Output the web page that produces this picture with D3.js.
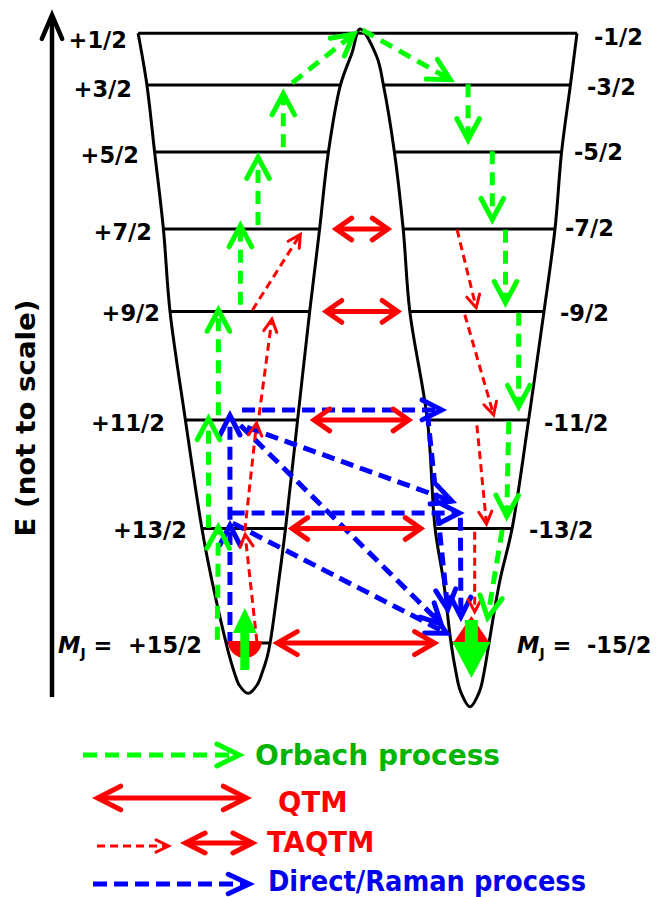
<!DOCTYPE html>
<html>
<head>
<meta charset="utf-8">
<script src="https://cdn.jsdelivr.net/npm/d3@7"></script>
<style>
  html, body { margin: 0; padding: 0; background: #fff; }
  svg { display: block; }
  text { font-family: "DejaVu Sans", Verdana, sans-serif; font-weight: bold; }
</style>
</head>
<body>
<svg id="chart" width="657" height="897"></svg>
<script>
// ---- Kramers doublets M_J = ±1/2 ... ±15/2 (energy axis not to scale) ----
const leftLabels  = ["+1/2", "+3/2", "+5/2", "+7/2", "+9/2", "+11/2", "+13/2", "+15/2"];
const rightLabels = ["-1/2", "-3/2", "-5/2", "-7/2", "-9/2", "-11/2", "-13/2", "-15/2"];
const levelEnergy = [99.5, 91.8, 81.8, 70.3, 58.0, 41.8, 25.6, 8.5];

// Double-well walls: coordinate q where each level meets the four branches
const wallLeftOuter  = [-1.99, -1.91, -1.84, -1.76, -1.70, -1.56, -1.41, -1.19];
const wallLeftInner  = [null, -0.15, -0.26, -0.34, -0.43, -0.54, -0.65, -0.79];
const wallRightInner = [null, 0.24, 0.34, 0.42, 0.48, 0.64, 0.71, 0.855];
const wallRightOuter = [2.00, 1.94, 1.86, 1.80, 1.70, 1.56, 1.41, 1.20];
// wall positions between the two lowest levels (outer-left, inner-left, inner-right, outer-right)
const lowerEnergy = 17.9;
const lowerWall = [-1.32, -0.71, 0.785, 1.30];
// well bottoms and barrier top  [q, E]
const leftBottom  = [[-1.157, 6.4], [-1.113, 4.0], [-1.07, 2.2], [-0.99, 1.0], [-0.91, 2.2], [-0.864, 4.0], [-0.817, 6.4]];
const barrierTop  = [[-0.045, 96.6], [0.027, 100.15], [0.18, 96.0]];
const rightBottom = [[0.898, 4.3], [0.941, 1.3], [1.027, -1.0], [1.114, 1.3], [1.157, 4.3]];

// Relaxation pathways  [q1, E1, q2, E2]
const orbach = [
  [-1.27,  9.0, -1.26, 26.6],
  [-1.35, 25.7, -1.35, 42.8],
  [-1.26, 42.5, -1.26, 59.0],
  [-1.06, 59.0, -1.06, 71.6],
  [-0.90, 70.9, -0.90, 81.8],
  [-0.67, 82.5, -0.67, 91.3],
  [-0.59, 92.1,  0.01, 99.9],
  [ 0.05, 100.0, 0.89, 92.2],
  [ 1.01, 91.9,  1.01, 82.8],
  [ 1.23, 81.9,  1.23, 70.9],
  [ 1.35, 70.2,  1.35, 58.5],
  [ 1.47, 57.8,  1.47, 43.0],
  [ 1.38, 41.6,  1.36, 26.6],
  [ 1.32, 25.4,  1.18, 11.5]
];
const taqtm = [
  [-0.91,  8.7, -1.02, 25.2],
  [-1.02, 25.2, -0.91, 41.8],
  [-0.89, 42.5, -0.77, 57.3],
  [-0.95, 58.2, -0.50, 69.9],
  [ 0.91, 70.2,  1.09, 58.1],
  [ 0.98, 57.5,  1.25, 42.1],
  [ 1.09, 41.0,  1.18, 25.8],
  [ 1.07, 25.1,  1.07, 12.7]
];
// tunnelling between the two wells: level index, left q, right q
const qtmLevel = [3, 4, 5, 6, 7];
const qtmLeft  = [-0.23, -0.32, -0.43, -0.63, -0.77];
const qtmRight = [0.32, 0.41, 0.51, 0.62, 0.75];
const direct = [
  [-1.155,  8.2, -1.155, 26.9],
  [-1.155, 26.9, -1.155, 43.3],
  [-1.045, 43.3,  0.82,  43.3],
  [-1.14,  27.9,  0.98,  27.9],
  [-1.00,  40.7,  0.91,  29.4],
  [-1.06,  41.0,  0.80,  10.8],
  [-1.13,  26.4,  0.86,   9.6],
  [ 0.64,  42.8,  0.83,  12.7],
  [ 0.94,  27.2,  0.945, 11.6]
];
// ground-state populations (well position q)
const groundLeftQ = -1.02;
const groundRightQ = 1.04;

const legendLabels = ["Orbach process", "QTM", "TAQTM", "Direct/Raman process"];

// ---- scales ----
const x = d3.scaleLinear().domain([-1, 1]).range([247, 467]);
const y = d3.scaleLinear().domain([0, 100]).range([700, 30]);

const svg = d3.select("#chart");

// ---- arrow helpers ----
const GREEN = "#00ff00", RED = "#ff0000", BLUE = "#0000ff";
const st = {
  orbach: { color: GREEN, w: 5, dash: "13,8", L: 24, th: 28 },
  direct: { color: BLUE, w: 5, dash: "13,7", L: 22, th: 27 },
  taqtm:  { color: RED, w: 3, dash: "8,5", L: 14, th: 28 },
  qtm:    { color: RED, w: 5, dash: null, L: 19, th: 35 }
};

function chevron(vx, vy, ang, L, th) {
  const a1 = ang + Math.PI - th, a2 = ang + Math.PI + th;
  return `M${vx + L * Math.cos(a1)},${vy + L * Math.sin(a1)}L${vx},${vy}L${vx + L * Math.cos(a2)},${vy + L * Math.sin(a2)}`;
}

function drawArrow(g, x1, y1, x2, y2, s, double) {
  const ang = Math.atan2(y2 - y1, x2 - x1);
  const th = s.th * Math.PI / 180;
  const back = (s.w / 2) / Math.sin(th);
  const ex = x2 - back * Math.cos(ang), ey = y2 - back * Math.sin(ang);
  let sx = x1, sy = y1;
  if (double) { sx = x1 + back * Math.cos(ang); sy = y1 + back * Math.sin(ang); }
  g.append("line")
    .attr("x1", sx).attr("y1", sy).attr("x2", ex).attr("y2", ey)
    .attr("stroke", s.color).attr("stroke-width", s.w)
    .attr("stroke-dasharray", s.dash);
  const heads = [[ex, ey, ang]];
  if (double) heads.push([sx, sy, ang + Math.PI]);
  heads.forEach(([hx, hy, a]) => {
    g.append("path").attr("d", chevron(hx, hy, a, s.L, th))
      .attr("fill", "none").attr("stroke", s.color).attr("stroke-width", s.w)
      .attr("stroke-linejoin", "miter").attr("stroke-linecap", "round");
  });
}

// ---- energy axis ----
const axisX = 52;
svg.append("line").attr("x1", axisX).attr("x2", axisX)
  .attr("y1", y(0) - 3).attr("y2", 17)
  .attr("stroke", "#000").attr("stroke-width", 4.5);
svg.append("path").attr("d", chevron(axisX, 15, -Math.PI / 2, 26, 23 * Math.PI / 180))
  .attr("fill", "none").attr("stroke", "#000").attr("stroke-width", 4.5)
  .attr("stroke-linecap", "round").attr("stroke-linejoin", "miter");
svg.append("text")
  .attr("transform", `translate(35,418) rotate(-90)`)
  .attr("text-anchor", "middle")
  .attr("font-size", 26)
  .attr("textLength", 237).attr("lengthAdjust", "spacingAndGlyphs")
  .attr("fill", "#000")
  .text("E (not to scale)");

// ---- double-well potential ----
const last = levelEnergy.length - 1;
const profile = [];
for (let i = 0; i < last; i++) profile.push([wallLeftOuter[i], levelEnergy[i]]);
profile.push([lowerWall[0], lowerEnergy]);
profile.push([wallLeftOuter[last], levelEnergy[last]]);
leftBottom.forEach(p => profile.push(p));
profile.push([wallLeftInner[last], levelEnergy[last]]);
profile.push([lowerWall[1], lowerEnergy]);
for (let i = last - 1; i >= 1; i--) profile.push([wallLeftInner[i], levelEnergy[i]]);
barrierTop.forEach(p => profile.push(p));
for (let i = 1; i < last; i++) profile.push([wallRightInner[i], levelEnergy[i]]);
profile.push([lowerWall[2], lowerEnergy]);
profile.push([wallRightInner[last], levelEnergy[last]]);
rightBottom.forEach(p => profile.push(p));
profile.push([wallRightOuter[last], levelEnergy[last]]);
profile.push([lowerWall[3], lowerEnergy]);
for (let i = last - 1; i >= 0; i--) profile.push([wallRightOuter[i], levelEnergy[i]]);

const wellLine = d3.line()
  .x(d => x(d[0])).y(d => y(d[1]))
  .curve(d3.curveCatmullRom.alpha(0.5));

const gWell = svg.append("g");
gWell.append("path").attr("d", wellLine(profile))
  .attr("fill", "none").attr("stroke", "#000").attr("stroke-width", 3);

// levels
levelEnergy.forEach((E, i) => {
  const segs = i === 0
    ? [[wallLeftOuter[0], wallRightOuter[0]]]
    : [[wallLeftOuter[i], wallLeftInner[i]], [wallRightInner[i], wallRightOuter[i]]];
  segs.forEach(([a, b]) => {
    gWell.append("line")
      .attr("x1", x(a)).attr("x2", x(b))
      .attr("y1", y(E)).attr("y2", y(E))
      .attr("stroke", "#000").attr("stroke-width", 3);
  });
});

// ---- level labels ----
const labelSize = 22.5;
const leftLabelEnd = [127, 132, 139, 152, 160, 165, 187, 202];
const rightLabelStart = [594, 587, 574, 565, 560, 544, 529, 517];
const leftDy = [7, 4, 3, 3, 2, 3, 2, 2];
const rightDy = [4, 2, 0, -1, 2, 3, 2, 2];

function addLabel(txt, xPos, yc, anchor, ground) {
  const t = svg.append("text")
    .attr("x", xPos).attr("y", yc + 8)
    .attr("text-anchor", anchor)
    .attr("font-size", labelSize).attr("fill", "#000");
  if (ground) {
    t.append("tspan").attr("font-style", "italic").text("M");
    t.append("tspan").attr("font-size", 14).attr("dy", 5).text("J");
    t.append("tspan").attr("dy", -5).text("\u00a0=\u00a0\u00a0" + txt);
  } else {
    t.text(txt);
  }
}
leftLabels.forEach((lab, i) => {
  addLabel(lab, leftLabelEnd[i], y(levelEnergy[i]) + leftDy[i], "end", i === last);
});
rightLabels.forEach((lab, i) => {
  addLabel(lab, rightLabelStart[i], y(levelEnergy[i]) + rightDy[i], "start", i === last);
});

// ---- pathways ----
const gBlue = svg.append("g");
direct.forEach(d => drawArrow(gBlue, x(d[0]), y(d[1]), x(d[2]), y(d[3]), st.direct, false));

const gRed = svg.append("g");
taqtm.forEach(d => drawArrow(gRed, x(d[0]), y(d[1]), x(d[2]), y(d[3]), st.taqtm, false));
qtmLevel.forEach((li, k) => {
  const s = li === last ? { ...st.qtm, L: 23, th: 30 } : st.qtm;
  const yy = y(levelEnergy[li]);
  drawArrow(gRed, x(qtmLeft[k]), yy, x(qtmRight[k]), yy, s, true);
});

// ground-state populations
const gGround = svg.append("g");
const yG = y(levelEnergy[last]);
const xl = x(groundLeftQ), xr = x(groundRightQ);
gGround.append("path")
  .attr("d", `M${xl - 17},${yG - 2}A17,17 0 0 0 ${xl + 17},${yG - 2}Z`)
  .attr("fill", RED);
gGround.append("path")
  .attr("d", `M${xr},${yG - 27}L${xr + 19},${yG + 1}L${xr - 19},${yG + 1}Z`)
  .attr("fill", RED);

const gGreen = svg.append("g");
orbach.forEach(d => drawArrow(gGreen, x(d[0]), y(d[1]), x(d[2]), y(d[3]), st.orbach, false));

// large population arrows
gGreen.append("path")
  .attr("d", `M${xl - 4.5},${yG + 27}V${yG - 10}H${xl - 12}L${xl},${yG - 35}L${xl + 12},${yG - 10}H${xl + 4.5}V${yG + 27}Z`)
  .attr("fill", GREEN);
gGreen.append("path")
  .attr("d", `M${xr - 6.5},${yG - 23}V${yG - 1}H${xr - 19}L${xr},${yG + 35}L${xr + 19},${yG - 1}H${xr + 6.5}V${yG - 23}Z`)
  .attr("fill", GREEN);

// ---- legend ----
const gLeg = svg.append("g");
drawArrow(gLeg, 83, 755, 245, 755, { color: GREEN, w: 5, dash: "14,8", L: 25, th: 26 }, false);
drawArrow(gLeg, 92, 798, 252, 798, { color: RED, w: 5, dash: null, L: 26, th: 27 }, true);
drawArrow(gLeg, 97, 846, 172, 846, { color: RED, w: 3, dash: "8,5", L: 14, th: 26 }, false);
drawArrow(gLeg, 180, 843, 258, 843, { color: RED, w: 5, dash: null, L: 22, th: 27 }, true);
drawArrow(gLeg, 93, 884, 255, 884, { color: BLUE, w: 5, dash: "14,7", L: 23, th: 25 }, false);

const legendX = [255, 278, 267, 268];
const legendBase = [765, 812, 852, 891];
const legendColor = ["#00b400", RED, RED, "#0000ee"];
const legendLen = [245, null, null, 318];
legendLabels.forEach((lab, i) => {
  const t = gLeg.append("text")
    .attr("x", legendX[i]).attr("y", legendBase[i])
    .attr("font-size", 27.5)
    .attr("fill", legendColor[i])
    .text(lab);
  if (legendLen[i]) t.attr("textLength", legendLen[i]).attr("lengthAdjust", "spacingAndGlyphs");
});
</script>
</body>
</html>
